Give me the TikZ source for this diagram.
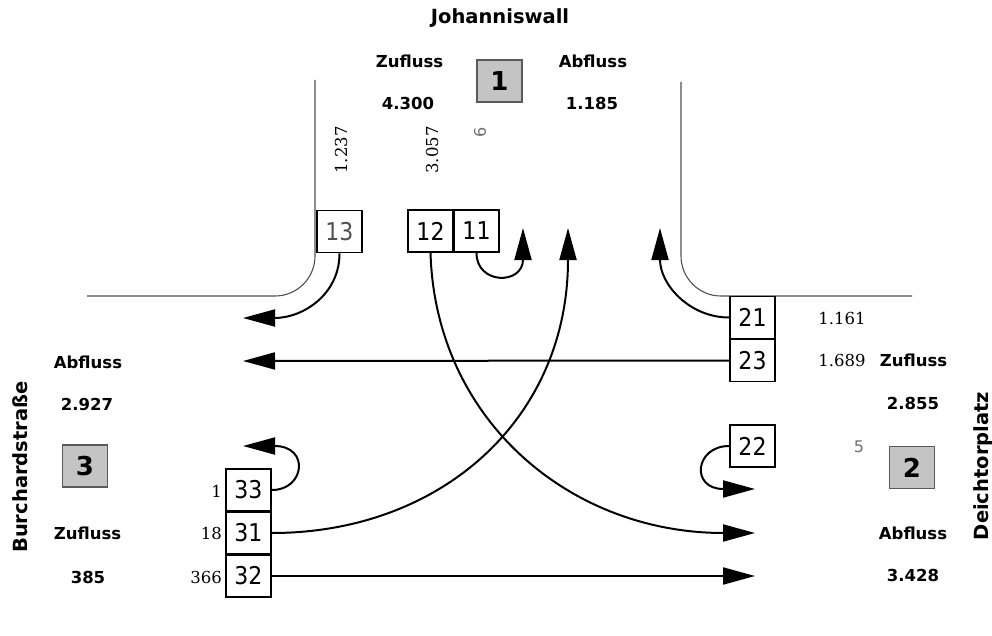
\documentclass[tikz,border=0pt]{standalone}
\usepackage{fontspec}
\setmainfont{DejaVu Sans}
\newfontfamily\boxfont{DejaVu Sans Condensed}
\newfontfamily\numfont{DejaVu Serif}
\usetikzlibrary{arrows.meta}
\definecolor{roadgray}{HTML}{505050}
\definecolor{zonefill}{HTML}{C4C4C4}
\definecolor{zoneline}{HTML}{5A5A5A}
\definecolor{softgray}{HTML}{707070}
\tikzset{
  road/.style={draw=roadgray, line width=1.1pt, rounded corners=40pt},
  lane/.style={draw, line width=1.9pt, minimum width=45pt, minimum height=42pt,
    inner sep=0pt, font=\boxfont\fontsize{24.5}{26}\selectfont},
  zone/.style={draw=zoneline, fill=zonefill, line width=1.3pt, minimum width=45pt,
    minimum height=42pt, inner sep=0pt, font=\bfseries\fontsize{26}{28}\selectfont},
  lbl/.style={font=\bfseries\fontsize{16.5}{18}\selectfont, inner sep=0pt},
  street/.style={font=\bfseries\fontsize{19.5}{22}\selectfont, inner sep=0pt},
  cnt/.style={font=\numfont\fontsize{16.5}{18}\selectfont, inner sep=0pt},
  faint/.style={font=\fontsize{16}{18}\selectfont, text=softgray, inner sep=0pt},
  flow/.style={line width=2pt, -{Triangle[length=32pt,width=17pt]}}
}
\begin{document}
\begin{tikzpicture}[x=1pt,y=-1pt]
\useasboundingbox[fill=white] (0,0) rectangle (992,636);

% road edges
\draw[road] (315,80) -- (315,296) -- (87,296);
\draw[road] (681,82) -- (681,296) -- (912,296);

% street names
\node[street] (nJ) at (500,18) {Johanniswall};
\node[street, rotate=90] (nB) at (20,467) {Burchardstraße};
\node[street, rotate=90] (nD) at (983,466) {Deichtorplatz};

% arm 1 (north)
\node[zone] (z1) at (499.5,81) {1};
\node[lbl] (in1) at (409.5,61) {Zufluss};
\node[lbl] (in1v) at (408,103) {4.300};
\node[lbl] (out1) at (593,61) {Abfluss};
\node[lbl] (out1v) at (592,103) {1.185};

% arm 2 (east)
\node[zone] (z2) at (912,467.5) {2};
\node[lbl] (in2) at (913.5,360) {Zufluss};
\node[lbl] (in2v) at (913,403) {2.855};
\node[lbl] (out2) at (913,533) {Abfluss};
\node[lbl] (out2v) at (913,575) {3.428};

% arm 3 (west)
\node[zone] (z3) at (85,466) {3};
\node[lbl] (out3) at (88,362) {Abfluss};
\node[lbl] (out3v) at (87,404) {2.927};
\node[lbl] (in3) at (87.5,533) {Zufluss};
\node[lbl] (in3v) at (88,577) {385};

% lane boxes
\node[lane, text=roadgray] (b13) at (339.5,231.5) {13};
\node[lane] (b12) at (430.5,231) {12};
\node[lane] (b11) at (476.5,231) {11};
\node[lane] (b21) at (752.5,317.5) {21};
\node[lane] (b23) at (752.5,360.5) {23};
\node[lane] (b22) at (752.5,446) {22};
\node[lane] (b33) at (248.5,490) {33};
\node[lane] (b31) at (248.5,533) {31};
\node[lane] (b32) at (248.5,576) {32};

% counts per lane
\node[cnt, rotate=90] (c13) at (341,150) {1.237};
\node[cnt, rotate=90] (c12) at (432,150) {3.057};
\node[faint, rotate=90] (c11) at (480,132) {6};
\node[cnt] (c21) at (842,318) {1.161};
\node[cnt] (c23) at (842,360) {1.689};
\node[faint] (c22) at (859,447) {5};
\node[cnt, anchor=east] (c33) at (222,491) {1};
\node[cnt, anchor=east] (c31) at (222,533) {18};
\node[cnt, anchor=east] (c32) at (222,577) {366};

% arrow tips
\coordinate (t11) at (523,228);
\coordinate (t31) at (568,228);
\coordinate (t21) at (660,228);
\coordinate (t13) at (243,318);
\coordinate (t23) at (243,361);
\coordinate (t33) at (243,446);
\coordinate (t22) at (755,489);
\coordinate (t12) at (755,533);
\coordinate (t32) at (755,576);

% turning movements
\draw[flow] (b13.south) .. controls +(0,41) and +(60,0) .. (t13);
\draw[flow] (b12.south) .. controls +(5,167) and +(-185,0) .. (t12);
\draw[flow] (b11.south) .. controls +(0,32) and +(0,57) .. (t11);
\draw[flow] (b21.west) .. controls +(-39,0) and +(0,57) .. (t21);
\draw[flow] (b23.west) -- (t23);
\draw[flow] (b22.west) .. controls +(-34,0) and +(-65,0) .. (t22);
\draw[flow] (b33.east) .. controls +(33,0) and +(67,0) .. (t33);
\draw[flow] (b31.east) .. controls +(168,0) and +(0,192) .. (t31);
\draw[flow] (b32.east) -- (t32);
\end{tikzpicture}
\end{document}
